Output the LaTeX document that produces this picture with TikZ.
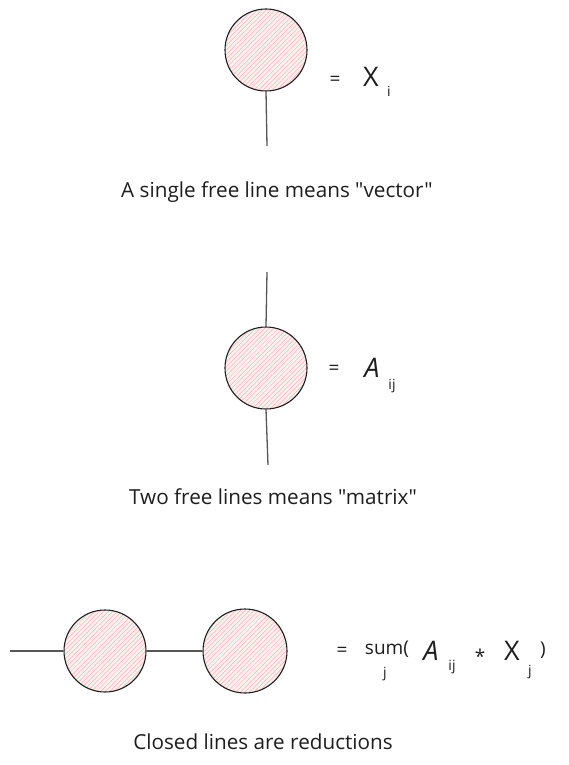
\documentclass[tikz,border=0pt]{standalone}
\usepackage{fontspec}
\setmainfont{Open Sans}[Ligatures=TeXOff]
\usetikzlibrary{patterns.meta}
\definecolor{ink}{HTML}{1E1E1E}
\definecolor{hatch}{HTML}{FFB3B3}
\definecolor{bgpink}{HTML}{FFF0F0}
\begin{document}
\begin{tikzpicture}[x=1pt,y=-1pt,
  tensor/.style={circle, minimum size=#1, inner sep=0pt, draw=ink, line width=1.1pt,
    preaction={fill=bgpink},
    pattern={Lines[angle=45,distance=3.2pt,line width=0.5pt]}, pattern color=hatch},
  tensor/.default=82pt,
  wire/.style={draw=ink!75, line width=1.3pt},
  caption/.style={font=\fontsize{20.7}{24}\selectfont, text=ink, inner sep=0pt},
  eq/.style={font=\fontsize{19}{22}\selectfont, text=ink, inner sep=0pt},
  big/.style={font=\fontsize{27}{30}\selectfont, text=ink, inner sep=0pt},
  sub/.style={font=\fontsize{14}{16}\selectfont, text=ink, inner sep=0pt}]
\useasboundingbox (0,0) rectangle (568,765);
% vector
\node[tensor] (v) at (266,50) {};
\coordinate (vend) at (267,146);
\draw[wire] (v.south) -- (vend);
\node[eq] (veq) at (335,81) {=};
\node[big] (vx) at (371,77) {X};
\node[sub] (vi) at (389,91) {i};
\node[caption] (c1) at (277,192) {A single free line means "vector"};
% matrix
\node[tensor] (m) at (266,368) {};
\coordinate (mtop) at (267,272);
\coordinate (mbot) at (268,465);
\draw[wire] (mtop) -- (m.north);
\draw[wire] (m.south) -- (mbot);
\node[eq] (meq) at (334,370) {=};
\node[big] (ma) at (372,368) {\itshape A};
\node[sub] (mij) at (392,386) {ij};
\node[caption] (c2) at (273,497) {Two free lines means "matrix"};
% reduction
\node[tensor] (r1) at (105,651) {};
\node[tensor=84pt] (r2) at (245,651) {};
\coordinate (rfree) at (10,651);
\draw[wire] (rfree) -- (r1.west);
\draw[wire] (r1.east) -- (r2.west);
\node[eq] (req) at (342,652) {=};
\node[eq] (rsum) at (387,649) {sum(};
\node[sub] (rj) at (385,674) {j};
\node[big] (ra) at (431,651) {\itshape A};
\node[sub] (rij) at (452,667) {ij};
\node[eq] (rstar) at (480,656) {*};
\node[big] (rx) at (512,651) {X};
\node[sub] (rxj) at (530,672) {j};
\node[eq] (rclose) at (543,650) {)};
\node[caption] (c3) at (263,742) {Closed lines are reductions};
\end{tikzpicture}
\end{document}
